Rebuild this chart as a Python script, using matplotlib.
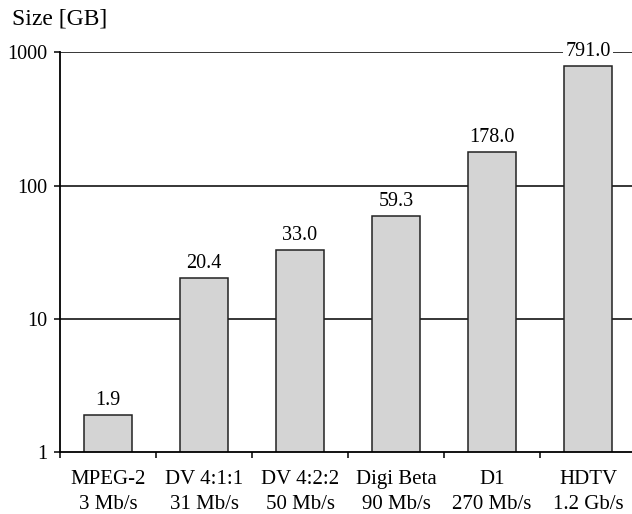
import matplotlib.pyplot as plt
import numpy as np
from matplotlib.ticker import FixedLocator, NullFormatter

plt.rcParams['font.family'] = ['Liberation Serif', 'DejaVu Serif']

formats = ['MPEG-2', 'DV 4:1:1', 'DV 4:2:2', 'Digi Beta', 'D1', 'HDTV']
rates = ['3 Mb/s', '31 Mb/s', '50 Mb/s', '90 Mb/s', '270 Mb/s', '1.2 Gb/s']
sizes = [1.9, 20.4, 33.0, 59.3, 178.0, 791.0]

fig = plt.figure(figsize=(6.32, 5.14), dpi=100)
ax = fig.add_axes([60 / 632, 1 - 452.3 / 514, 576 / 632, 400 / 514])

x = np.arange(len(formats))
ax.set_yscale('log')
ax.set_ylim(1, 1000)
ax.set_xlim(-0.5, len(formats) - 0.5)

for y in [10, 100, 1000]:
    ax.axhline(y, color='black', lw=1.1, zorder=1)

ax.bar(x, sizes, width=0.5, color='#d4d4d4', edgecolor='#222222', lw=1.1, zorder=2)

for xi, v in zip(x, sizes):
    ax.annotate(f'{v:.1f}', (xi, v), xytext=(0, 3.5), textcoords='offset points',
                ha='center', va='bottom', fontsize=14.5, zorder=3,
                bbox=dict(facecolor='white', edgecolor='none', pad=1.5))

ax.set_yticks([1, 10, 100, 1000])
ax.set_yticklabels(['1', '10', '100', '1000'], fontsize=14.5)
ax.yaxis.set_minor_locator(FixedLocator([]))
ax.yaxis.set_minor_formatter(NullFormatter())
ax.tick_params(axis='y', which='major', length=4, width=1.1, pad=5)

ax.set_xticks(x)
ax.set_xticklabels([f'{f}\n{r}' for f, r in zip(formats, rates)], fontsize=15,
                   linespacing=1.42)
ax.xaxis.set_minor_locator(FixedLocator(np.arange(len(formats) + 1) - 0.5))
ax.tick_params(axis='x', which='major', length=0, pad=13)
ax.tick_params(axis='x', which='minor', length=4, width=1.1)

for s in ['top', 'right']:
    ax.spines[s].set_visible(False)
for s in ['left', 'bottom']:
    ax.spines[s].set_linewidth(1.3)
    ax.spines[s].set_zorder(4)

fig.text(12 / 632, 1 - 19 / 514, 'Size [GB]', fontsize=17, ha='left', va='center')

fig.savefig('out.png', dpi=100)
